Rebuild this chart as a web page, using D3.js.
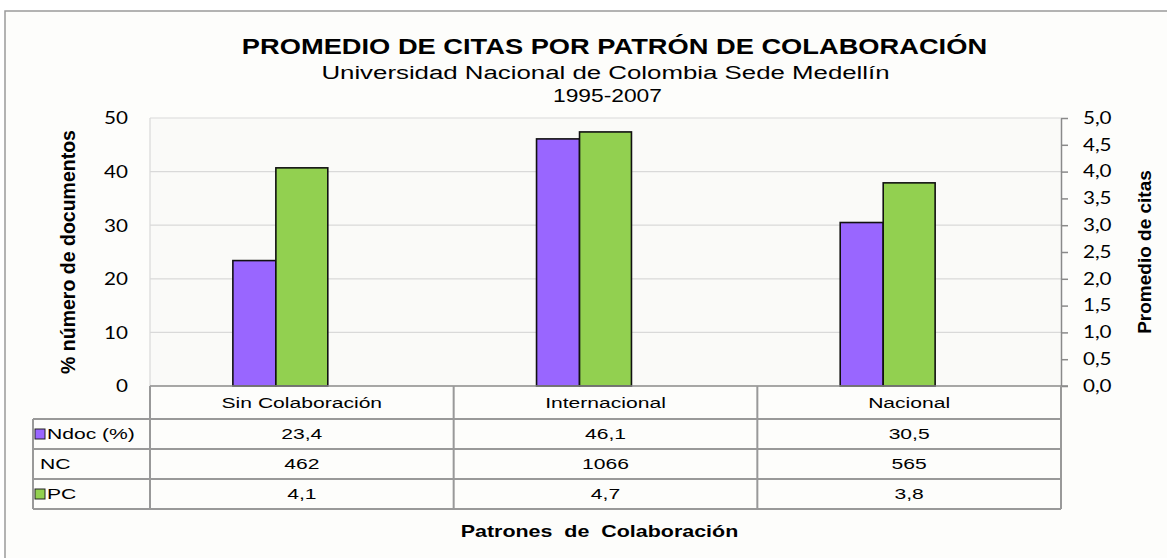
<!DOCTYPE html>
<html><head><meta charset="utf-8">
<script src="https://cdn.jsdelivr.net/npm/d3@7"></script>
<style>
body{margin:0;background:#ffffff}
svg text{font-family:"Liberation Sans",Arial,sans-serif;fill:#000}
.sx{transform-box:fill-box;transform:scaleX(1.36)}
.sx.t2{transform:scaleX(1.24)}
.sx.t3{transform:scaleX(1.2)}
.sx.t4{transform:scaleX(1.3);white-space:pre}
.mid{transform-origin:center}
.st{transform-origin:left center}
.en{transform-origin:right center}
.tick text{font-family:Lato,"Open Sans",sans-serif;font-size:16.5px;transform-box:fill-box;transform:scaleX(1.25)}
.lax .tick text{transform-origin:right center}
.rax .tick text{transform-origin:left center}
</style></head>
<body><svg id="c" width="1167" height="558"></svg>
<script>
// ---- data ----
const categories = ["Sin Colaboración", "Internacional", "Nacional"];
const ndoc = [23.4, 46.1, 30.5];
const nc = [462, 1066, 565];
const pc = [4.07, 4.74, 3.79];
const rowLabels = ["Ndoc (%)", "NC", "PC"];
const leftTicks = [0, 10, 20, 30, 40, 50];
const rightTicks = [0, 0.5, 1, 1.5, 2, 2.5, 3, 3.5, 4, 4.5, 5];
const titleText = "PROMEDIO DE CITAS POR PATRÓN DE COLABORACIÓN";
const subtitleText = "Universidad Nacional de Colombia Sede Medellín";
const yearText = "1995-2007";
const leftTitle = "% número de documentos";
const rightTitle = "Promedio de citas";
const xTitle = "Patrones  de  Colaboración";
const purple = "#9966ff", green = "#92d050";

// ---- layout ----
const P = {l: 150, r: 1061, t: 118, b: 386};
const tableLeft = 33, rowH = [386, 419, 449, 479, 509];
const loc = d3.formatLocale({decimal: ",", thousands: ".", grouping: [3], currency: ["", ""]});
const f1 = loc.format(".1f"), fi = loc.format("d");

const svg = d3.select("#c");
svg.append("rect").attr("x", 5).attr("y", 11).attr("width", 1400).attr("height", 800)
  .attr("fill", "#fdfdfb").attr("stroke", "#9a9a9a").attr("stroke-width", 1.5);

const x = d3.scaleBand().domain(categories).range([P.l, P.r]);
const yL = d3.scaleLinear().domain([0, 50]).range([P.b, P.t]);
const yR = d3.scaleLinear().domain([0, 5]).range([P.b, P.t]);

svg.append("rect").attr("x", P.l).attr("y", P.t).attr("width", P.r - P.l).attr("height", P.b - P.t)
  .attr("fill", "#fafaf8");
// gridlines
svg.append("g").selectAll("line").data(leftTicks.filter(d => d > 0)).join("line")
  .attr("x1", P.l).attr("x2", P.r).attr("y1", d => yL(d)).attr("y2", d => yL(d))
  .attr("stroke", "#d9d9d9").attr("stroke-width", 1.2);
svg.append("line").attr("x1", P.l).attr("x2", P.l).attr("y1", P.t).attr("y2", P.b)
  .attr("stroke", "#d9d9d9").attr("stroke-width", 1.2);

// axes
const la = svg.append("g").attr("class", "lax").attr("transform", `translate(${P.l},0)`)
  .call(d3.axisLeft(yL).tickValues(leftTicks).tickSize(0).tickPadding(22));
la.select(".domain").remove();
la.selectAll("text").attr("dy", "0.36em");

const ra = svg.append("g").attr("class", "rax").attr("transform", `translate(${P.r},0)`)
  .call(d3.axisRight(yR).tickValues(rightTicks).tickSize(7).tickSizeOuter(0).tickPadding(15)
    .tickFormat(d => f1(d)));
ra.select(".domain").attr("stroke", "#8a8a8a").attr("stroke-width", 1.5);
ra.selectAll(".tick line").attr("stroke", "#8a8a8a").attr("stroke-width", 1.5);

// bars
const bw = x.bandwidth();
const gW = bw * 0.171, pW = bw * 0.1416;
const gX = c => x(c) + bw / 2 - gW / 2;
svg.append("g").selectAll("rect").data(categories).join("rect")
  .attr("x", c => gX(c) - pW).attr("width", pW)
  .attr("y", (c, i) => yL(ndoc[i])).attr("height", (c, i) => P.b - yL(ndoc[i]))
  .attr("fill", purple).attr("stroke", "#111").attr("stroke-width", 1.6);
svg.append("g").selectAll("rect").data(categories).join("rect")
  .attr("x", c => gX(c)).attr("width", gW)
  .attr("y", (c, i) => yR(pc[i])).attr("height", (c, i) => P.b - yR(pc[i]))
  .attr("fill", green).attr("stroke", "#111").attr("stroke-width", 1.6);

// bottom axis line
svg.append("line").attr("x1", P.l).attr("x2", P.r + 7).attr("y1", P.b).attr("y2", P.b)
  .attr("stroke", "#8a8a8a").attr("stroke-width", 1.6);

// table
const tg = svg.append("g");
const lineC = "#999", lineW = 2;
rowH.slice(1).forEach(y => tg.append("line").attr("x1", tableLeft).attr("x2", P.r).attr("y1", y).attr("y2", y)
  .attr("stroke", lineC).attr("stroke-width", lineW));
tg.append("line").attr("x1", tableLeft).attr("x2", tableLeft).attr("y1", rowH[1]).attr("y2", rowH[4])
  .attr("stroke", lineC).attr("stroke-width", lineW);
categories.forEach(c => tg.append("line").attr("x1", x(c)).attr("x2", x(c)).attr("y1", P.b).attr("y2", rowH[4])
  .attr("stroke", lineC).attr("stroke-width", lineW));
tg.append("line").attr("x1", P.r).attr("x2", P.r).attr("y1", P.b).attr("y2", rowH[4])
  .attr("stroke", lineC).attr("stroke-width", lineW);

function txt(parent, xx, yy, s, anchor, size, weight, extra) {
  const cls = anchor === "middle" ? "mid" : anchor === "start" ? "st" : "en";
  return parent.append("text").attr("class", "sx " + cls + (extra ? " " + extra : "")).attr("x", xx).attr("y", yy)
    .attr("text-anchor", anchor).attr("font-size", size).attr("font-weight", weight || "normal").text(s);
}
const rowMid = i => (rowH[i] + rowH[i + 1]) / 2 + 5.5;
categories.forEach((c, j) => {
  const cx = x(c) + bw / 2;
  txt(tg, cx, rowMid(0), c, "middle", 15.5);
  txt(tg, cx, rowMid(1), f1(ndoc[j]), "middle", 15.5);
  txt(tg, cx, rowMid(2), fi(nc[j]), "middle", 15.5);
  txt(tg, cx, rowMid(3), f1(pc[j]), "middle", 15.5);
});
// row labels with legend keys
const keys = [purple, null, green];
rowLabels.forEach((r, i) => {
  const cy = (rowH[i + 1] + rowH[i + 2]) / 2;
  if (keys[i]) {
    tg.append("rect").attr("x", 35).attr("y", cy - 5).attr("width", 10).attr("height", 10)
      .attr("fill", keys[i]).attr("stroke", "#222").attr("stroke-width", 1);
    txt(tg, 47, cy + 5.5, r, "start", 15.5);
  } else {
    txt(tg, 40, cy + 5.5, r, "start", 15.5);
  }
});

// titles
const cx0 = (P.l + P.r) / 2;
txt(svg, cx0 + 9, 54, titleText, "middle", 22, "bold", "t2");
txt(svg, cx0, 79, subtitleText, "middle", 19);
txt(svg, cx0 + 2, 102, yearText, "middle", 19, "normal", "t3");
txt(svg, cx0 - 6, 537, xTitle, "middle", 16.5, "bold", "t4");

svg.append("text").attr("transform", `translate(75,${(P.t + P.b) / 2}) rotate(-90)`)
  .attr("text-anchor", "middle").attr("font-size", 19.5).attr("font-weight", "bold").text(leftTitle);
svg.append("text").attr("transform", `translate(1151,${(P.t + P.b) / 2}) rotate(-90)`)
  .attr("text-anchor", "middle").attr("font-size", 19).attr("font-weight", "bold").text(rightTitle);
</script></body></html>
